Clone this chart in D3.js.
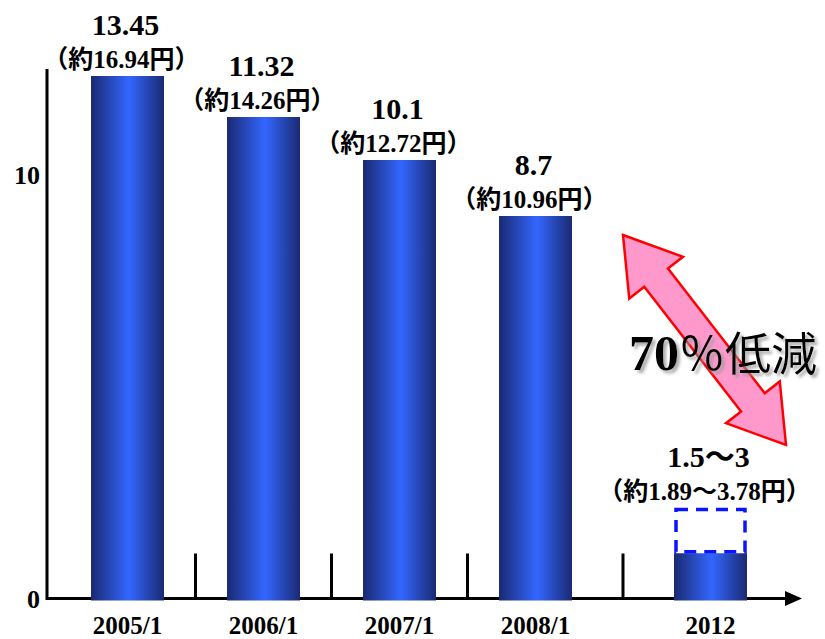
<!DOCTYPE html>
<html>
<head>
<meta charset="utf-8">
<script src="https://cdn.jsdelivr.net/npm/d3@7"></script>
<style>
  body { margin: 0; background: #fff; }
  svg { display: block; }
  text { font-family: 'Liberation Serif', 'Noto Sans CJK JP', serif; fill: #000; }
</style>
</head>
<body>
<div class="graph"></div>
<script>
const categories = ['2005/1', '2006/1', '2007/1', '2008/1', '2012'];
const values = [13.45, 11.32, 10.1, 8.7, 1.5];
const valueLabels = ['13.45', '11.32', '10.1', '8.7', '1.5〜3'];
const yenLabels = ['（約16.94円）', '（約14.26円）', '（約12.72円）', '（約10.96円）', '（約1.89〜3.78円）'];
const targetUpper = [null, null, null, null, 3];
const yTicks = [0, 10];

function displayGraph() {
  const w = 825;
  const h = 639;
  const barWidth = 73;

  // the original chart is not drawn to scale, so the y scale is piecewise
  const yScale = d3.scaleLinear()
    .domain([0, 3, 8.7, 10, 10.1, 11.32, 13.45])
    .range([598.5, 508, 216, 175, 160, 117, 76]);
  // 2012 sits further right than the yearly bars
  const xScale = d3.scaleLinear()
    .domain([0, 3, 4])
    .range([127.5, 535.5, 710.5]);

  const svg = d3.select('.graph')
    .append('svg')
    .attr('width', w)
    .attr('height', h);

  const defs = svg.append('defs');
  const grad = defs.append('linearGradient')
    .attr('id', 'barGrad')
    .attr('x1', '0%').attr('x2', '100%')
    .attr('y1', '0%').attr('y2', '0%');
  grad.append('stop').attr('offset', '0%').attr('stop-color', '#1a2a72');
  grad.append('stop').attr('offset', '52%').attr('stop-color', '#3366ff');
  grad.append('stop').attr('offset', '100%').attr('stop-color', '#1a2a72');

  const shadow = defs.append('filter')
    .attr('id', 'shadow')
    .attr('x', '-10%').attr('y', '-20%')
    .attr('width', '130%').attr('height', '150%');
  shadow.append('feDropShadow')
    .attr('dx', 3).attr('dy', 3)
    .attr('stdDeviation', 1.5)
    .attr('flood-color', '#999')
    .attr('flood-opacity', 0.8);

  // axes
  const y0 = yScale(0);
  svg.append('line')
    .attr('x1', 47).attr('x2', 47)
    .attr('y1', 69).attr('y2', y0 + 1.5)
    .attr('stroke', '#000')
    .attr('stroke-width', 3);
  svg.append('line')
    .attr('x1', 47).attr('x2', 788)
    .attr('y1', y0).attr('y2', y0)
    .attr('stroke', '#000')
    .attr('stroke-width', 3);
  svg.append('path')
    .attr('d', `M785,${y0 - 7.5}L802,${y0}L785,${y0 + 7.5}Z`)
    .attr('fill', '#000');

  svg.selectAll('.divider')
    .data(d3.range(categories.length - 1))
    .enter()
    .append('line')
    .attr('class', 'divider')
    .attr('x1', (d) => xScale(d + 0.5))
    .attr('x2', (d) => xScale(d + 0.5))
    .attr('y1', y0 - 45)
    .attr('y2', y0)
    .attr('stroke', '#000')
    .attr('stroke-width', 3);

  svg.selectAll('.y-label')
    .data(yTicks)
    .enter()
    .append('text')
    .attr('class', 'y-label')
    .attr('x', 40)
    .attr('y', (d) => yScale(d))
    .attr('dy', '0.35em')
    .attr('text-anchor', 'end')
    .style('font-size', '26px')
    .style('font-weight', 'bold')
    .text((d) => d);

  svg.selectAll('.x-label')
    .data(categories)
    .enter()
    .append('text')
    .attr('class', 'x-label')
    .attr('x', (d, i) => xScale(i))
    .attr('y', 634)
    .attr('text-anchor', 'middle')
    .style('font-size', '25px')
    .style('font-weight', 'bold')
    .text((d) => d);

  // bars
  svg.selectAll('.bar')
    .data(values)
    .enter()
    .append('rect')
    .attr('class', 'bar')
    .attr('x', (d, i) => xScale(i) - barWidth / 2)
    .attr('y', (d) => yScale(d))
    .attr('width', barWidth)
    .attr('height', (d) => y0 + 2 - yScale(d))
    .attr('fill', 'url(#barGrad)');

  // target range for 2012
  svg.selectAll('.target')
    .data(values.map((v, i) => ({ i, low: v, high: targetUpper[i] })).filter((d) => d.high !== null))
    .enter()
    .append('rect')
    .attr('class', 'target')
    .attr('x', (d) => xScale(d.i) - barWidth / 2 + 2)
    .attr('y', (d) => yScale(d.high) + 1.5)
    .attr('width', barWidth - 4)
    .attr('height', (d) => yScale(d.low) - yScale(d.high) - 3)
    .attr('fill', 'none')
    .attr('stroke', '#0a14ff')
    .attr('stroke-width', 3.5)
    .attr('stroke-dasharray', '12,8');

  const topOf = (i) => yScale(targetUpper[i] !== null ? targetUpper[i] : values[i]);

  svg.selectAll('.value-label')
    .data(valueLabels)
    .enter()
    .append('text')
    .attr('class', 'value-label')
    .attr('x', (d, i) => xScale(i) - 2)
    .attr('y', (d, i) => topOf(i) - 41)
    .attr('text-anchor', 'middle')
    .style('font-size', '30px')
    .style('font-weight', 'bold')
    .text((d) => d);

  svg.selectAll('.yen-label')
    .data(yenLabels)
    .enter()
    .append('text')
    .attr('class', 'yen-label')
    .attr('x', (d, i) => xScale(i) - 6)
    .attr('y', (d, i) => topOf(i) - 8)
    .attr('text-anchor', 'middle')
    .style('font-size', '25px')
    .style('font-weight', 'bold')
    .text((d) => d);

  // reduction arrow
  const from = [623, 235];
  const to = [786, 445];
  const len = Math.hypot(to[0] - from[0], to[1] - from[1]);
  const angle = Math.atan2(to[1] - from[1], to[0] - from[0]) * 180 / Math.PI;
  const half = len / 2;
  const head = 54;
  const hw = 34;
  const sw = 15;
  const arrowPath = [
    [-half, 0], [-half + head, -hw], [-half + head, -sw], [half - head, -sw],
    [half - head, -hw], [half, 0], [half - head, hw], [half - head, sw],
    [-half + head, sw], [-half + head, hw]
  ];
  svg.append('path')
    .attr('transform', `translate(${(from[0] + to[0]) / 2},${(from[1] + to[1]) / 2}) rotate(${angle})`)
    .attr('d', d3.line()(arrowPath) + 'Z')
    .attr('fill', '#ff99cc')
    .attr('stroke', '#ff0000')
    .attr('stroke-width', 2.5)
    .attr('stroke-linejoin', 'miter');

  const note = svg.append('text')
    .attr('x', 629)
    .attr('y', 370)
    .attr('filter', 'url(#shadow)');
  note.append('tspan')
    .style('font-size', '50px')
    .style('font-weight', 'bold')
    .text('70');
  note.append('tspan')
    .style('font-size', '46px')
    .style('font-family', "'Noto Sans CJK JP', sans-serif")
    .style('font-weight', '400')
    .text('％低減');
}

displayGraph();
</script>
</body>
</html>
